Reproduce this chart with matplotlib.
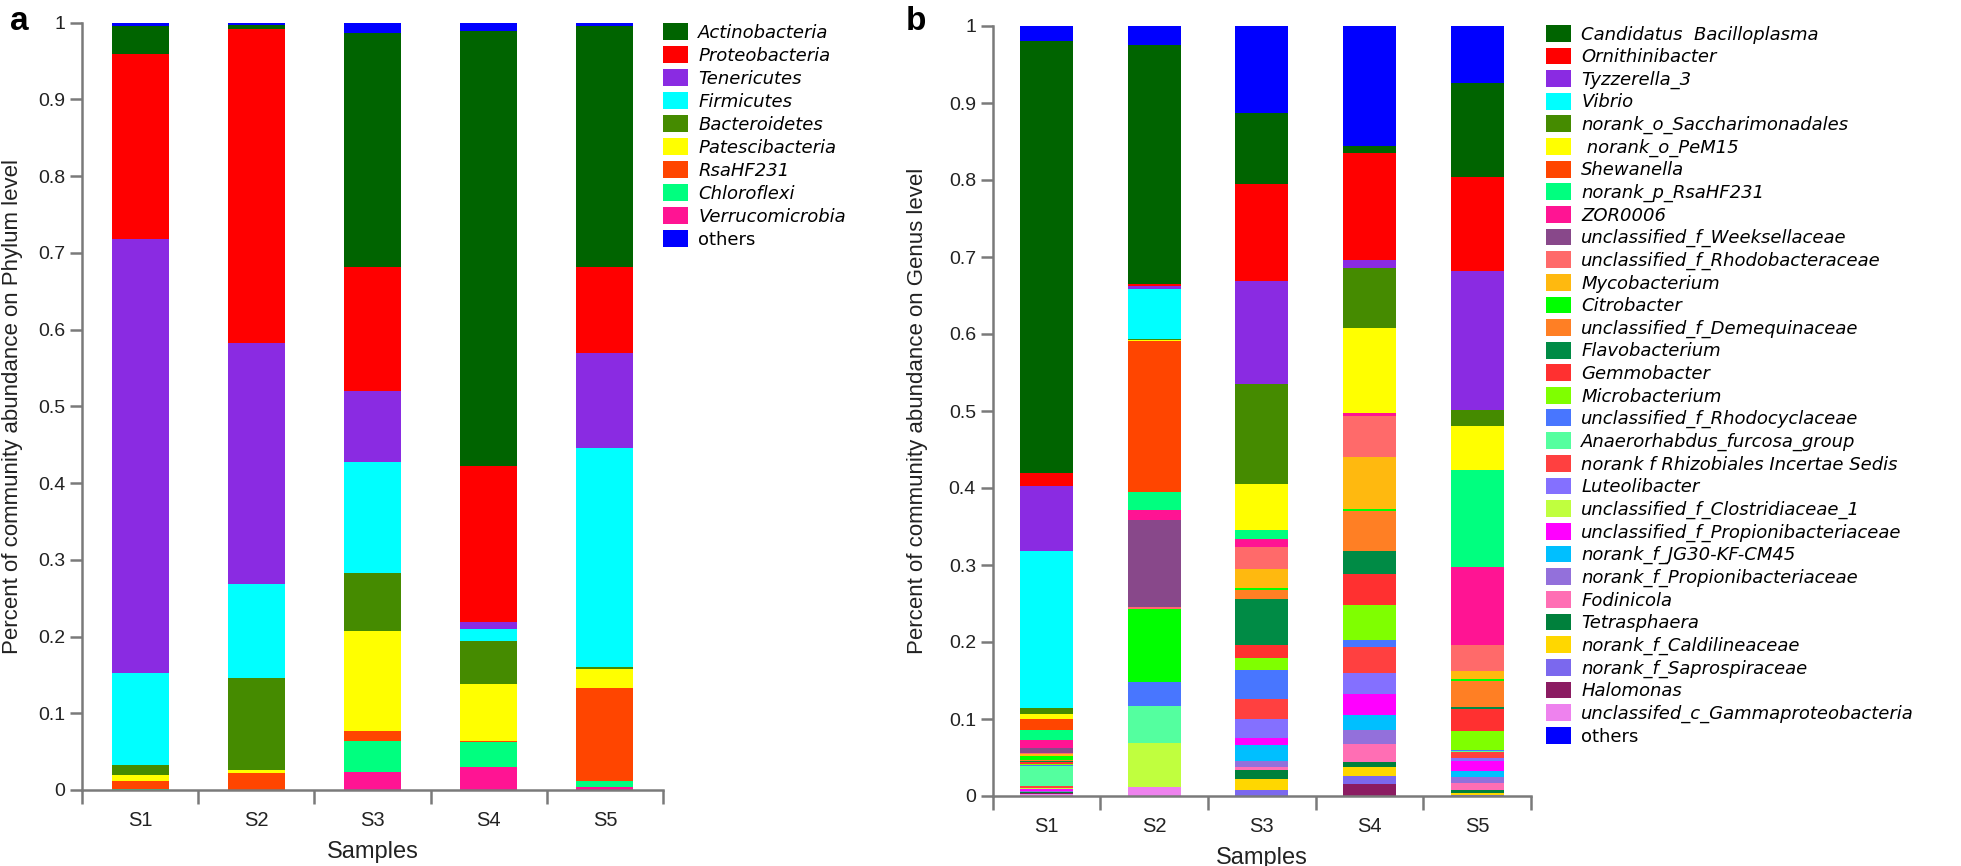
import matplotlib
matplotlib.use('Agg')
import matplotlib.pyplot as plt
import matplotlib.patches as mpatches
from matplotlib.font_manager import FontProperties
import numpy as np

samples = ['S1', 'S2', 'S3', 'S4', 'S5']
ytick_labels = ['0', '0.1', '0.2', '0.3', '0.4', '0.5', '0.6', '0.7', '0.8', '0.9', '1']

# panel a, phylum level (legend order, "others" last)
phyla = ['Actinobacteria', 'Proteobacteria', 'Tenericutes', 'Firmicutes', 'Bacteroidetes',
         'Patescibacteria', 'RsaHF231', 'Chloroflexi', 'Verrucomicrobia', 'others']
phylum_colors = ['#006400', '#FF0000', '#8A2BE2', '#00FFFF', '#458B00',
                 '#FFFF00', '#FF4500', '#00FF7F', '#FF1493', '#0000FF']
phylum_s1 = [0.0365, 0.2416, 0.5655, 0.1200, 0.0126, 0.0087, 0.0103, 0.0005, 0.0005, 0.0040]
phylum_s2 = [0.0050, 0.4094, 0.3151, 0.1213, 0.1208, 0.0030, 0.0222, 0.0003, 0.0003, 0.0026]
phylum_s3 = [0.3055, 0.1604, 0.0934, 0.1443, 0.0752, 0.1312, 0.0122, 0.0404, 0.0239, 0.0135]
phylum_s4 = [0.5658, 0.2043, 0.0087, 0.0152, 0.0565, 0.0739, 0.0022, 0.0317, 0.0304, 0.0113]
phylum_s5 = [0.3142, 0.1117, 0.1234, 0.2859, 0.0022, 0.0248, 0.1217, 0.0078, 0.0035, 0.0048]

# panel b, genus level
genera = ['Candidatus  Bacilloplasma', 'Ornithinibacter', 'Tyzzerella_3', 'Vibrio',
          'norank_o_Saccharimonadales', ' norank_o_PeM15', 'Shewanella', 'norank_p_RsaHF231',
          'ZOR0006', 'unclassified_f_Weeksellaceae', 'unclassified_f_Rhodobacteraceae',
          'Mycobacterium', 'Citrobacter', 'unclassified_f_Demequinaceae', 'Flavobacterium',
          'Gemmobacter', 'Microbacterium', 'unclassified_f_Rhodocyclaceae',
          'Anaerorhabdus_furcosa_group', 'norank f Rhizobiales Incertae Sedis', 'Luteolibacter',
          'unclassified_f_Clostridiaceae_1', 'unclassified_f_Propionibacteriaceae',
          'norank_f_JG30-KF-CM45', 'norank_f_Propionibacteriaceae', 'Fodinicola',
          'Tetrasphaera', 'norank_f_Caldilineaceae', 'norank_f_Saprospiraceae', 'Halomonas',
          'unclassifed_c_Gammaproteobacteria', 'others']
genus_colors = ['#006400', '#FF0000', '#8A2BE2', '#00FFFF', '#458B00', '#FFFF00', '#FF4500',
                '#00FF7F', '#FF1493', '#88488A', '#FF6A6A', '#FFB90F', '#00FF00', '#FF7F24',
                '#008B45', '#FF3030', '#7FFF00', '#4876FF', '#54FF9F', '#FF4040', '#8470FF',
                '#C0FF3E', '#FF00FF', '#00BFFF', '#9370DB', '#FF6EB4', '#00803C', '#FFD700',
                '#7B68EE', '#8B1C62', '#EE82EE', '#0000FF']
genus_s1 = [0.5610, 0.0164, 0.0846, 0.2030, 0.0078, 0.0065, 0.0150, 0.0130, 0.0108, 0.0055,
            0.0020, 0.0020, 0.0050, 0.0015, 0.0020, 0.0020, 0.0013, 0.0020, 0.0260, 0.0020,
            0.0005, 0.0005, 0.0030, 0.0005, 0.0005, 0.0005, 0.0005, 0.0005, 0.0005, 0.0005,
            0.0030, 0.0195]
genus_s2 = [0.3110, 0.0020, 0.0040, 0.0660, 0.0010, 0.0010, 0.1960, 0.0230, 0.0130, 0.1140,
            0.0020, 0.0000, 0.0950, 0.0000, 0.0000, 0.0000, 0.0000, 0.0310, 0.0485, 0.0000,
            0.0000, 0.0563, 0.0000, 0.0000, 0.0000, 0.0000, 0.0000, 0.0000, 0.0000, 0.0000,
            0.0121, 0.0240]
genus_s3 = [0.0922, 0.1260, 0.1325, 0.0000, 0.1300, 0.0606, 0.0000, 0.0110, 0.0110, 0.0000,
            0.0277, 0.0250, 0.0035, 0.0110, 0.0593, 0.0180, 0.0150, 0.0380, 0.0000, 0.0260,
            0.0247, 0.0000, 0.0087, 0.0207, 0.0083, 0.0034, 0.0122, 0.0138, 0.0078, 0.0000,
            0.0000, 0.1143]
genus_s4 = [0.0087, 0.1385, 0.0104, 0.0000, 0.0780, 0.1109, 0.0000, 0.0000, 0.0030, 0.0000,
            0.0540, 0.0680, 0.0020, 0.0524, 0.0294, 0.0398, 0.0463, 0.0091, 0.0000, 0.0329,
            0.0280, 0.0000, 0.0270, 0.0190, 0.0190, 0.0230, 0.0070, 0.0113, 0.0104, 0.0155,
            0.0000, 0.1558]
genus_s5 = [0.1216, 0.1225, 0.1801, 0.0000, 0.0208, 0.0571, 0.0000, 0.1264, 0.1009, 0.0000,
            0.0333, 0.0113, 0.0017, 0.0346, 0.0026, 0.0277, 0.0251, 0.0010, 0.0010, 0.0079,
            0.0039, 0.0000, 0.0130, 0.0087, 0.0077, 0.0087, 0.0035, 0.0030, 0.0008, 0.0000,
            0.0005, 0.0745]

W, H = 1961, 866
fig = plt.figure(figsize=(W / 100, H / 100), dpi=100)
grey = '#7a7a7a'
tick_font = ['Liberation Sans Narrow', 'Liberation Sans', 'DejaVu Sans']
label_font = ['Liberation Sans', 'DejaVu Sans']


def px_axes(left, right, y_zero, y_one):
    return fig.add_axes([left / W, 1 - y_zero / H, (right - left) / W, (y_zero - y_one) / H])


def draw_stack(ax, per_sample, colors):
    vals = np.array(per_sample).T
    n = vals.shape[0]
    x = np.arange(len(samples)) + 0.5
    bottom = np.zeros(len(samples))
    # legend order is top -> bottom, "others" sits on top of the stack
    for i in list(range(n - 2, -1, -1)) + [n - 1]:
        ax.bar(x, vals[i], 0.49, bottom=bottom, color=colors[i], linewidth=0)
        bottom += vals[i]


def style_axes(ax, ylabel, label_x):
    ax.set_xlim(0, 5)
    ax.set_ylim(0, 1)
    for s in ['top', 'right']:
        ax.spines[s].set_visible(False)
    for s in ['left', 'bottom']:
        ax.spines[s].set_color(grey)
        ax.spines[s].set_linewidth(1.8)
    ax.set_yticks(np.linspace(0, 1, 11))
    ax.set_yticklabels(ytick_labels, family=tick_font, fontsize=14, color='#222222')
    ax.tick_params(axis='y', length=9, width=1.8, color=grey, pad=3)
    ax.set_xticks(np.arange(5) + 0.5)
    ax.set_xticklabels(samples, family=tick_font, fontsize=14.5, color='#222222')
    ax.set_xticks(np.arange(6), minor=True)
    ax.tick_params(axis='x', which='major', length=0, pad=15)
    ax.tick_params(axis='x', which='minor', length=10, width=1.8, color=grey)
    ax.set_xlabel('Samples', family=label_font, fontsize=17, color='#222222', labelpad=8)
    ax.set_ylabel(ylabel, family=label_font, fontsize=16, color='#222222')
    ax.yaxis.set_label_coords(label_x, 0.5)


def add_legend(names, colors, x_px, y_px, spacing):
    handles = [mpatches.Patch(facecolor=c, edgecolor='none') for c in colors]
    leg = fig.legend(handles, names, loc='upper left', bbox_to_anchor=(x_px / W, 1 - y_px / H),
                     frameon=False, prop=FontProperties(family='DejaVu Sans',
                                                        style='oblique', size=13),
                     handlelength=1.4, handleheight=1.05, handletextpad=0.55,
                     labelspacing=spacing, borderpad=0, borderaxespad=0)
    leg.get_texts()[-1].set_fontstyle('normal')
    return leg


ax_a = px_axes(82, 663, 790, 22.7)
draw_stack(ax_a, [phylum_s1, phylum_s2, phylum_s3, phylum_s4, phylum_s5], phylum_colors)
style_axes(ax_a, 'Percent of community abundance on Phylum level', -0.102)
add_legend(phyla, phylum_colors, 663, 23, 0.25)

ax_b = px_axes(992.6, 1531, 796, 26)
draw_stack(ax_b, [genus_s1, genus_s2, genus_s3, genus_s4, genus_s5], genus_colors)
style_axes(ax_b, 'Percent of community abundance on Genus level', -0.12)
add_legend(genera, genus_colors, 1546, 25, 0.22)

fig.text(10 / W, 1 - 6 / H, 'a', fontsize=24, fontweight='bold', va='top', family=label_font)
fig.text(906 / W, 1 - 6 / H, 'b', fontsize=24, fontweight='bold', va='top', family=label_font)

fig.savefig('out.png', dpi=100)
